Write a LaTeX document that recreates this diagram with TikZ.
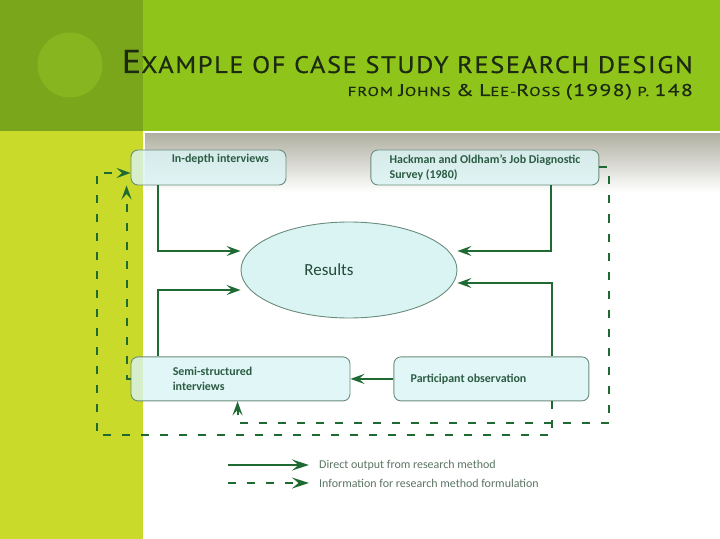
\documentclass[tikz,border=0pt]{standalone}
\usepackage{fontspec}
\setmainfont{Carlito}
\newfontfamily\titlefont[LetterSpace=6, FakeBold=0.4]{PT Sans}
\usepackage{graphicx}
\usepackage{xcolor}
\usepackage{tikz}
\usetikzlibrary{positioning, arrows.meta, shapes.geometric}
\definecolor{bandgreen}{HTML}{8FC41B}
\definecolor{darkband}{HTML}{7AA61C}
\definecolor{discgreen}{HTML}{87B520}
\definecolor{stripeyellow}{HTML}{C9DA2A}
\definecolor{titleink}{HTML}{1B2A10}
\definecolor{arrowgreen}{HTML}{1F6A33}
\definecolor{boxfill}{HTML}{DAF4F4}
\definecolor{boxline}{HTML}{6A8C7C}
\definecolor{boxink}{HTML}{2C5C44}
\definecolor{legendink}{HTML}{5C7564}
\definecolor{shadegray}{HTML}{B0B0A2}
\newcommand{\titlecap}[1]{{\fontsize{33}{33}\selectfont #1}}
\newcommand{\subcap}[1]{{\fontsize{17}{17}\selectfont #1}}

\begin{document}
\begin{tikzpicture}[x=1bp, y=-1bp, node distance=40bp,
  methodbox/.style={draw=boxline, fill=boxfill, fill opacity=0.8, line width=0.9bp,
    rounded corners=7bp, minimum height=35bp, inner sep=0pt},
  boxtext/.style={font=\bfseries\fontsize{12}{14.5}\selectfont, text=boxink, align=left, inner sep=0pt},
  legendtext/.style={font=\fontsize{12}{14}\selectfont, text=legendink, inner sep=0pt},
  direct/.style={arrowgreen, line width=2bp, -{Stealth[length=14bp, width=10bp, inset=5.5bp]}},
  informs/.style={direct, dash pattern=on 8bp off 11bp},
  legendtip/.style={-{Stealth[length=17bp, width=11bp, inset=6.5bp]}}]
  \useasboundingbox (0,0) rectangle (720,539);
  % slide background
  \fill[white] (0,0) rectangle (720,539);
  \fill[stripeyellow] (0,131) rectangle (143,539);
  \fill[darkband] (0,0) rectangle (143,131);
  \fill[bandgreen] (143,0) rectangle (720,131);
  \fill[discgreen] (70,65) circle[radius=32.5bp];
  \shade[top color=shadegray, bottom color=white] (145,134) rectangle (720,192);

  \node[anchor=base east, inner sep=0pt, text=titleink] (title) at (693,73)
    {\resizebox{571bp}{\height}{\titlefont\fontsize{24}{24}\selectfont\titlecap{E}XAMPLE OF CASE STUDY RESEARCH DESIGN}};
  \node[anchor=base east, inner sep=0pt, text=titleink] (subtitle) at (693,96)
    {\resizebox{345bp}{\height}{\titlefont\fontsize{13}{13}\selectfont FROM \subcap{J}OHNS \subcap{\&} \subcap{L}EE-\subcap{R}OSS \subcap{(1998)} P. \subcap{148}}};

  % methods and results
  \node[methodbox, minimum width=155bp] (indepth) at (208.5,167.5) {};
  \node[methodbox, minimum width=228bp, right=84bp of indepth] (hackman) {};
  \node[methodbox, minimum width=219bp, minimum height=44bp,
        below right=171bp and 0bp of indepth.south west] (semi) {};
  \node[methodbox, minimum width=195bp, minimum height=44bp, right=43bp of semi] (particip) {};
  \node[ellipse, draw=boxline, fill=boxfill, line width=0.9bp, minimum width=216bp,
        minimum height=96bp, inner sep=0pt] (results) at (349,270) {};

  \node[boxtext, right=41bp of indepth.west, yshift=8.5bp] (indepthtxt) {In-depth interviews};
  \node[boxtext, right=19bp of hackman.west] (hackmantxt) {Hackman and Oldham's Job Diagnostic\\Survey (1980)};
  \node[boxtext, right=42bp of semi.west] (semitxt) {Semi-structured\\interviews};
  \node[boxtext, right=17bp of particip.west] (participtxt) {Participant observation};
  \node[font=\fontsize{17}{17}\selectfont, text=boxink!80!black, inner sep=0pt] (resultstxt)
    at ([xshift=-20bp]results.center) {Results};

  % direct output
  \draw[direct] ([xshift=27bp]indepth.south west) |- ([yshift=19bp]results.west);
  \draw[direct] ([xshift=27bp]semi.north west) |- ([yshift=-20bp]results.west);
  \draw[direct] ([xshift=-48bp]hackman.south east) |- ([yshift=19bp]results.east);
  \draw[direct] ([xshift=-37bp]particip.north east) |- ([yshift=-13bp]results.east);
  \draw[direct] (particip.west) -- (semi.east);

  % information for formulation
  \draw[informs] (hackman.east) -- ++(10,0) |- ([xshift=107bp, yshift=-22bp]semi.south west)
    -- ([xshift=107bp]semi.south west);
  \draw[informs] ([xshift=-37bp]particip.south east) -- ++(0,34)
    -| ([xshift=-34bp, yshift=-5.5bp]indepth.west) -- ([yshift=-5.5bp]indepth.west);
  \draw[informs] (semi.west) -| ([xshift=-4bp]indepth.south west);

  % legend
  \coordinate (directstart) at (228,465);
  \coordinate (infostart) at (228,483);
  \node[legendtext, right=91bp of directstart] (directlbl) {Direct output from research method};
  \node[legendtext, right=91bp of infostart] (infolbl) {Information for research method formulation};
  \draw[direct, legendtip] (directstart) -- ([xshift=-10bp]directlbl.west);
  \draw[informs, legendtip] (infostart) -- ([xshift=-10bp]infolbl.west);
\end{tikzpicture}
\end{document}
